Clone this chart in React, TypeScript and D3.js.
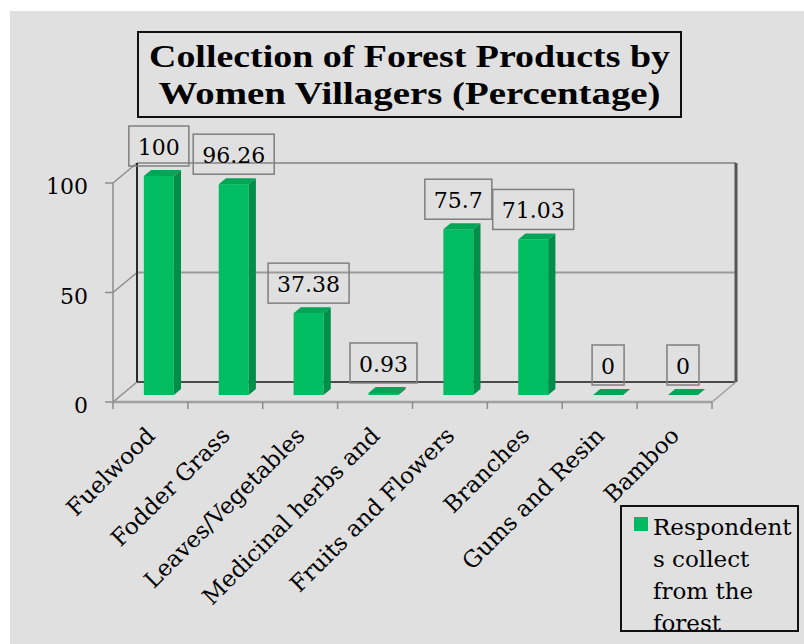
import React, { useEffect, useRef } from 'react';
import * as d3 from 'd3';

const categories = [
  'Fuelwood',
  'Fodder Grass',
  'Leaves/Vegetables',
  'Medicinal herbs and',
  'Fruits and Flowers',
  'Branches',
  'Gums and Resin',
  'Bamboo',
];
const values = [100, 96.26, 37.38, 0.93, 75.7, 71.03, 0, 0];
const valueLabels = ['100', '96.26', '37.38', '0.93', '75.7', '71.03', '0', '0'];
const yTicks = [0, 50, 100];
const titleLines = ['Collection of Forest Products by', 'Women Villagers (Percentage)'];
const legendLines = ['Respondent', 's collect', 'from the', 'forest'];

const SERIF = "'DejaVu Serif', Georgia, serif";
const TITLE_FONT = "'Liberation Serif', 'Times New Roman', serif";

export default function App() {
  const ref = useRef<SVGSVGElement>(null);

  useEffect(() => {
    const W = 804;
    const H = 644;
    const svg = d3.select(ref.current as SVGSVGElement);
    svg.selectAll('*').remove();

    svg.append('rect').attr('width', W).attr('height', H).attr('fill', '#ffffff');
    svg.append('rect').attr('x', 10).attr('y', 11).attr('width', W - 10).attr('height', H - 11).attr('fill', '#e0e0e0');

    const x = d3.scaleBand<string>().domain(categories).range([113, 712]);
    const y = d3.scaleLinear().domain([0, 100]).range([402, 183]);
    const bw = x.bandwidth();
    const DX = 24;
    const DY = -20;
    const x0 = x.range()[0];
    const x1 = x.range()[1];

    const g = svg.append('g');

    // back wall gridlines
    yTicks.forEach((t) => {
      g.append('line')
        .attr('x1', x0 + DX).attr('x2', x1 + DX)
        .attr('y1', y(t) + DY).attr('y2', y(t) + DY)
        .attr('stroke', t === 0 ? '#4a4a4a' : '#9a9a9a')
        .attr('stroke-width', 2);
      // side wall diagonals
      g.append('line')
        .attr('x1', x0).attr('x2', x0 + DX)
        .attr('y1', y(t)).attr('y2', y(t) + DY)
        .attr('stroke', '#8c8c8c').attr('stroke-width', 1.5);
      // y ticks
      g.append('line')
        .attr('x1', x0 - 8).attr('x2', x0)
        .attr('y1', y(t)).attr('y2', y(t))
        .attr('stroke', '#8c8c8c').attr('stroke-width', 1.5);
      g.append('text')
        .attr('x', 88).attr('y', y(t) + 11)
        .attr('text-anchor', 'end')
        .attr('font-family', SERIF).attr('font-size', 22)
        .attr('fill', '#000')
        .text(String(t));
    });

    // back wall verticals
    g.append('line')
      .attr('x1', x0 + DX).attr('x2', x0 + DX)
      .attr('y1', y(0) + DY).attr('y2', y(100) + DY)
      .attr('stroke', '#2a2a2a').attr('stroke-width', 2);
    g.append('line')
      .attr('x1', x1 + DX).attr('x2', x1 + DX)
      .attr('y1', y(0) + DY).attr('y2', y(100) + DY)
      .attr('stroke', '#555555').attr('stroke-width', 3);
    // front left axis
    g.append('line')
      .attr('x1', x0).attr('x2', x0)
      .attr('y1', y(0)).attr('y2', y(100))
      .attr('stroke', '#8c8c8c').attr('stroke-width', 1.5);
    // floor front edge + right diagonal
    g.append('line')
      .attr('x1', x0).attr('x2', x1)
      .attr('y1', y(0)).attr('y2', y(0))
      .attr('stroke', '#a0a0a0').attr('stroke-width', 2.5);
    g.append('line')
      .attr('x1', x1).attr('x2', x1 + DX)
      .attr('y1', y(0)).attr('y2', y(0) + DY)
      .attr('stroke', '#a0a0a0').attr('stroke-width', 1.5);
    // x ticks
    const boundaries = categories.map((c) => x(c) as number).concat([x1]);
    boundaries.forEach((bx) => {
      g.append('line')
        .attr('x1', bx).attr('x2', bx)
        .attr('y1', y(0)).attr('y2', y(0) + 7)
        .attr('stroke', '#8c8c8c').attr('stroke-width', 1.5);
    });

    // bars
    const barW = bw * 0.4;
    const dF = 0.35;
    const dDepth = 0.3;
    const sx = DX * dDepth;
    const sy = DY * dDepth;
    categories.forEach((c, i) => {
      const v = values[i];
      const fx0 = (x(c) as number) + (bw - barW) / 2 + dF * DX;
      const fx1 = fx0 + barW;
      const ytop = y(v) + dF * DY;
      const ybot = y(0) + dF * DY;
      if (ybot - ytop > 0.5) {
        g.append('rect')
          .attr('x', fx0).attr('y', ytop)
          .attr('width', barW).attr('height', ybot - ytop)
          .attr('fill', '#00bd62');
        g.append('polygon')
          .attr('points', [[fx1, ytop], [fx1 + sx, ytop + sy], [fx1 + sx, ybot + sy], [fx1, ybot]].map((p) => p.join(',')).join(' '))
          .attr('fill', '#008f48');
      }
      g.append('polygon')
        .attr('points', [[fx0, ytop], [fx1, ytop], [fx1 + sx, ytop + sy], [fx0 + sx, ytop + sy]].map((p) => p.join(',')).join(' '))
        .attr('fill', '#00a556');

      // data label
      const cx = fx0 + barW / 2;
      const bottom = ytop - 10;
      const txt = g.append('text')
        .attr('x', cx).attr('y', bottom - 11)
        .attr('text-anchor', 'middle')
        .attr('font-family', SERIF).attr('font-size', 22)
        .attr('fill', '#000')
        .text(valueLabels[i]);
      const tw = (txt.node() as SVGTextElement).getComputedTextLength();
      g.insert('rect', () => txt.node() as any)
        .attr('x', cx - tw / 2 - 9).attr('y', bottom - 40)
        .attr('width', tw + 18).attr('height', 40)
        .attr('fill', 'none')
        .attr('stroke', '#7f7f7f').attr('stroke-width', 1.5);
    });

    // x labels
    categories.forEach((c) => {
      const ax = (x(c) as number) + bw / 2 + 6;
      const ay = 437;
      g.append('text')
        .attr('transform', `translate(${ax},${ay}) rotate(-45)`)
        .attr('text-anchor', 'end')
        .attr('font-family', SERIF).attr('font-size', 23)
        .attr('fill', '#000')
        .text(c);
    });

    // title
    g.append('rect')
      .attr('x', 138).attr('y', 32).attr('width', 543).attr('height', 85)
      .attr('fill', 'none').attr('stroke', '#111').attr('stroke-width', 2);
    const titleLens = [521, 502];
    titleLines.forEach((t, i) => {
      g.append('text')
        .attr('x', 409.5).attr('y', 67 + i * 37)
        .attr('text-anchor', 'middle')
        .attr('font-family', TITLE_FONT).attr('font-weight', 'bold').attr('font-size', 32)
        .attr('textLength', titleLens[i]).attr('lengthAdjust', 'spacingAndGlyphs')
        .attr('fill', '#000')
        .text(t);
    });

    // legend
    const defs = svg.append('defs');
    defs.append('clipPath').attr('id', 'legclip')
      .append('rect').attr('x', 621).attr('y', 506).attr('width', 177).attr('height', 125);
    const leg = g.append('g');
    leg.append('rect')
      .attr('x', 621).attr('y', 506).attr('width', 177).attr('height', 125)
      .attr('fill', 'none').attr('stroke', '#111').attr('stroke-width', 2);
    leg.append('rect')
      .attr('x', 634).attr('y', 517).attr('width', 14).attr('height', 14)
      .attr('fill', '#00b960');
    const lt = leg.append('g').attr('clip-path', 'url(#legclip)');
    legendLines.forEach((t, i) => {
      lt.append('text')
        .attr('x', 653).attr('y', 535 + i * 32)
        .attr('font-family', SERIF).attr('font-size', 23)
        .attr('fill', '#000')
        .text(t);
    });
  }, []);

  return (
    <svg
      ref={ref}
      width={804}
      height={644}
      style={{ position: 'absolute', left: 0, top: 0, display: 'block' }}
    />
  );
}
